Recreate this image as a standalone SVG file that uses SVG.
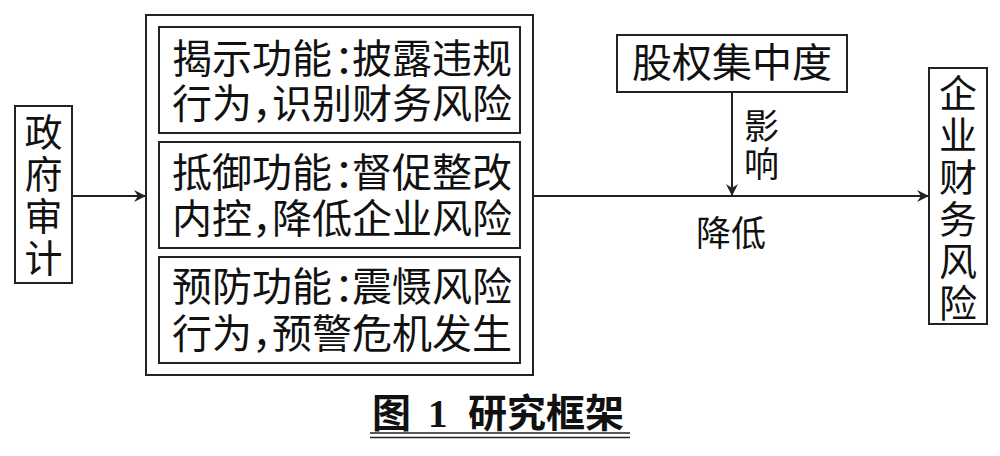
<svg xmlns="http://www.w3.org/2000/svg" width="1000" height="456" viewBox="0 0 1000 456">
<style>
rect.box{fill:#fff;stroke:#222;stroke-width:2}
text{font-family:"Noto Sans CJK SC","Noto Sans CJK JP",sans-serif;fill:#111}
.t{font-size:40px;text-anchor:middle}
.v{font-size:38px;text-anchor:middle}
.f{font-size:40px}
.s{font-size:35px}
.ln{stroke:#222;stroke-width:2;fill:none}
.cap{font-family:"Noto Sans CJK SC","Liberation Serif",serif;font-size:39px;font-weight:bold}
</style>
<defs>
<marker id="ah" viewBox="0 0 12 12" refX="11" refY="6" markerWidth="12" markerHeight="12" markerUnits="userSpaceOnUse" orient="auto">
<path d="M0,0 L12,6 L0,12 L4,6 Z" fill="#222"/>
</marker>
</defs>
<rect width="1000" height="456" fill="#fff"/>
<g id="connectors">
<line class="ln" x1="72" y1="196" x2="145" y2="196" marker-end="url(#ah)"/>
<line class="ln" x1="533" y1="196" x2="928" y2="196" marker-end="url(#ah)"/>
<line class="ln" x1="732" y1="92" x2="732" y2="195" marker-end="url(#ah)"/>
<text class="s" x="744" y="139">影</text>
<text class="s" x="744" y="177">响</text>
<text class="s" x="696" y="246">降低</text>
</g>
<g id="gov">
<rect class="box" x="15" y="106" width="57" height="177"/>
<text class="v" x="43.5" y="146">政</text>
<text class="v" x="43.5" y="188">府</text>
<text class="v" x="43.5" y="230">审</text>
<text class="v" x="43.5" y="272">计</text>
</g>
<g id="functions">
<rect class="box" x="146" y="15" width="387" height="360"/>
<g id="f1">
<rect class="box" x="159" y="27" width="361" height="106"/>
<text class="f" x="172" y="73">揭示功能<tspan dx="2">：</tspan><tspan dx="-22">披露违规</tspan></text>
<text class="f" x="172" y="118">行为<tspan dx="0">，</tspan><tspan dx="-20">识别财务风险</tspan></text>
</g>
<g id="f2">
<rect class="box" x="159" y="142" width="361" height="106"/>
<text class="f" x="172" y="187">抵御功能<tspan dx="2">：</tspan><tspan dx="-22">督促整改</tspan></text>
<text class="f" x="172" y="233">内控<tspan dx="0">，</tspan><tspan dx="-20">降低企业风险</tspan></text>
</g>
<g id="f3">
<rect class="box" x="159" y="257" width="361" height="106"/>
<text class="f" x="172" y="301">预防功能<tspan dx="2">：</tspan><tspan dx="-22">震慑风险</tspan></text>
<text class="f" x="172" y="348">行为<tspan dx="0">，</tspan><tspan dx="-20">预警危机发生</tspan></text>
</g>
</g>
<g id="equity">
<rect class="box" x="617" y="35" width="230" height="57"/>
<text class="t" x="732" y="77">股权集中度</text>
</g>
<g id="risk">
<rect class="box" x="929" y="68" width="58" height="256"/>
<text class="v" x="958" y="107">企</text>
<text class="v" x="958" y="149">业</text>
<text class="v" x="958" y="191">财</text>
<text class="v" x="958" y="233">务</text>
<text class="v" x="958" y="275">风</text>
<text class="v" x="958" y="317">险</text>
</g>
<g id="caption">
<text class="cap" x="372" y="427">图</text>
<text class="cap" x="428" y="427" style="font-family:'Liberation Serif',serif">1</text>
<text class="cap" x="468" y="427">研究框架</text>
<line class="ln" x1="370" y1="433" x2="630" y2="433" style="stroke-width:1.5"/>
<line class="ln" x1="370" y1="437.5" x2="630" y2="437.5" style="stroke-width:1.5"/>
</g>
</svg>
